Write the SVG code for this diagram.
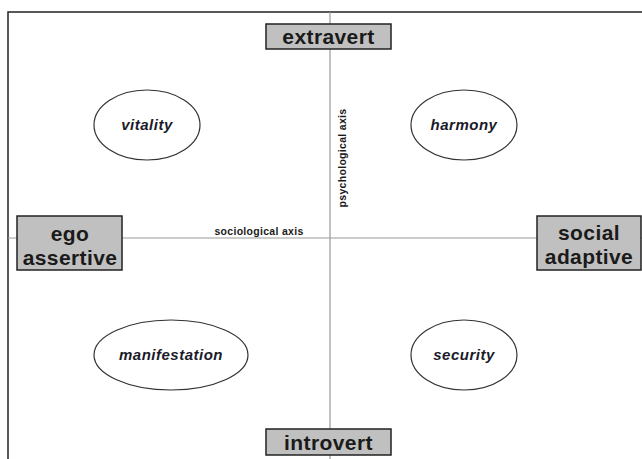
<svg xmlns="http://www.w3.org/2000/svg" width="642" height="459" viewBox="0 0 642 459">
  <style>
    .frame { fill: none; stroke: #222; stroke-width: 1.5; }
    .axis { stroke: #999; stroke-width: 1.2; fill: none; }
    .pole rect { fill: #c0c0c0; stroke: #222; stroke-width: 1.5; }
    .pole text { font-family: "Liberation Sans", Arial, sans-serif; font-weight: bold; font-size: 21px; letter-spacing: 0.4px; fill: #1a1a1a; text-anchor: middle; }
    .type ellipse { fill: #fff; stroke: #333; stroke-width: 1.2; }
    .type text { font-family: "Liberation Sans", Arial, sans-serif; font-weight: bold; font-style: italic; font-size: 15px; letter-spacing: 0.5px; fill: #1a1a2a; text-anchor: middle; }
    .axislabel { font-family: "Liberation Sans", Arial, sans-serif; font-weight: bold; font-size: 10.5px; letter-spacing: 0.3px; fill: #1a1a1a; text-anchor: middle; }
  </style>
  <rect width="642" height="459" fill="#fff"/>
  <rect class="frame" x="8" y="12" width="640" height="460"/>

  <g id="axes">
    <line class="axis" x1="330" y1="12" x2="330" y2="459"/>
    <line class="axis" x1="8" y1="238" x2="642" y2="238"/>
    <text class="axislabel" x="259" y="235">sociological axis</text>
    <text class="axislabel" transform="translate(346 158) rotate(-90)">psychological axis</text>
  </g>

  <g id="extravert" class="pole">
    <rect x="266" y="24" width="125" height="25"/>
    <text x="328.5" y="44">extravert</text>
  </g>
  <g id="introvert" class="pole">
    <rect x="266" y="429" width="125" height="26"/>
    <text x="328.5" y="450">introvert</text>
  </g>
  <g id="ego-assertive" class="pole">
    <rect x="17" y="216" width="105" height="54"/>
    <text x="70" y="241">ego</text>
    <text x="70" y="265">assertive</text>
  </g>
  <g id="social-adaptive" class="pole">
    <rect x="537" y="216" width="104" height="54"/>
    <text x="589" y="240">social</text>
    <text x="589" y="264">adaptive</text>
  </g>

  <g id="vitality" class="type">
    <ellipse cx="147" cy="125" rx="53" ry="35"/>
    <text x="147" y="130">vitality</text>
  </g>
  <g id="harmony" class="type">
    <ellipse cx="464" cy="125" rx="53" ry="35"/>
    <text x="464" y="130">harmony</text>
  </g>
  <g id="manifestation" class="type">
    <ellipse cx="171" cy="355" rx="77" ry="35"/>
    <text x="171" y="360">manifestation</text>
  </g>
  <g id="security" class="type">
    <ellipse cx="464" cy="355" rx="53" ry="35"/>
    <text x="464" y="360">security</text>
  </g>
</svg>
